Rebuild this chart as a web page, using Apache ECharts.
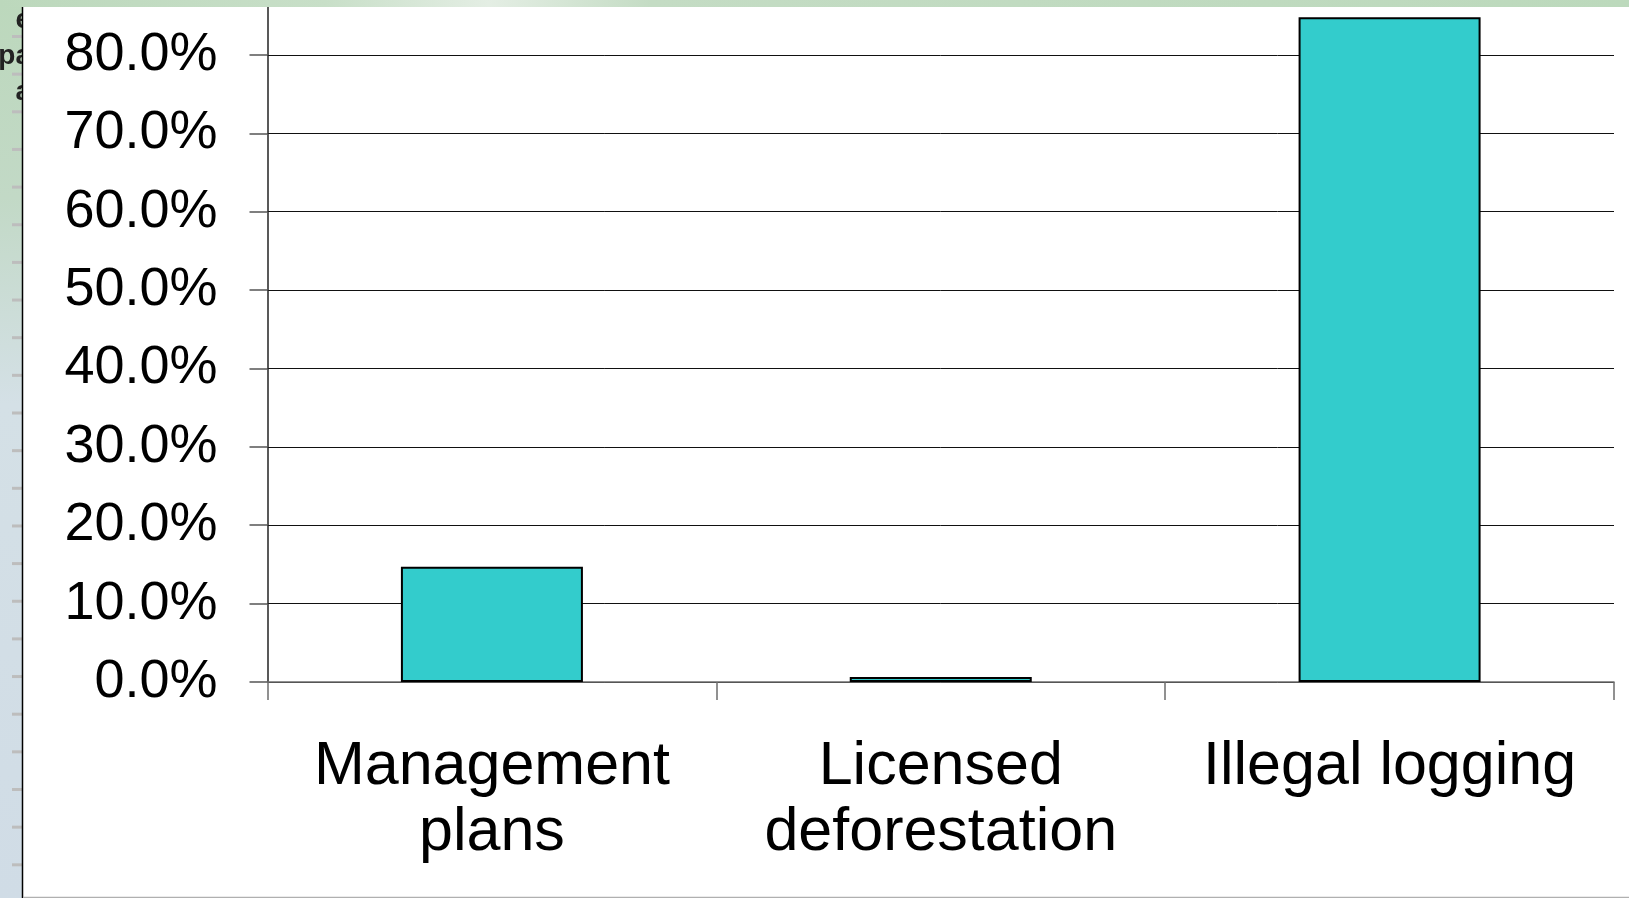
<!DOCTYPE html>
<html>
<head>
<meta charset="utf-8">
<script src="https://cdn.jsdelivr.net/npm/echarts@6/dist/echarts.min.js"></script>
<style>
html,body{margin:0;padding:0;background:#fff;}
#chart{width:1629px;height:898px;}
</style>
</head>
<body>
<div id="chart"></div>
<script>
const categories = ['Management\nplans', 'Licensed\ndeforestation', 'Illegal logging'];
const shares = [0.147, 0.0065, 0.848];
const yTicks = [0, 0.1, 0.2, 0.3, 0.4, 0.5, 0.6, 0.7, 0.8];
const yMaxVisible = 0.8625;

const chart = echarts.init(document.getElementById('chart'));

const deco = [];
deco.push({type:'rect', z:100, shape:{x:0,y:0,width:23,height:898},
  style:{fill:new echarts.graphic.LinearGradient(0,0,0,1,[
    {offset:0,color:'#bcd8bc'},{offset:0.22,color:'#c2d9c6'},{offset:0.45,color:'#d4e0e6'},{offset:1,color:'#d0dce6'}])}});
for (let k = 0; k < 23; k++) {
  deco.push({type:'rect', z:101, shape:{x:12,y:35+k*37.65,width:10,height:3}, style:{fill:'#bdbdbd'}});
}
deco.push({type:'text', z:102, style:{text:'e', x:31, y:20, align:'right', verticalAlign:'middle', font:'bold 28px "Liberation Sans", Arial', fill:'#222'}});
deco.push({type:'text', z:102, style:{text:'pa', x:31, y:56, align:'right', verticalAlign:'middle', font:'bold 28px "Liberation Sans", Arial', fill:'#222'}});
deco.push({type:'text', z:102, style:{text:'a', x:31, y:92, align:'right', verticalAlign:'middle', font:'bold 28px "Liberation Sans", Arial', fill:'#222'}});
deco.push({type:'rect', z:103, shape:{x:23,y:0,width:30,height:130}, style:{fill:'#fff'}});
deco.push({type:'rect', z:104, shape:{x:0,y:0,width:1629,height:7},
  style:{fill:new echarts.graphic.LinearGradient(0,0,1,0,[
    {offset:0,color:'#bcd8bc'},{offset:0.2,color:'#c8dfc8'},{offset:0.3,color:'#e4eee4'},{offset:0.4,color:'#c4dcc4'},{offset:1,color:'#bcd9bc'}])}});
deco.push({type:'line', z:105, shape:{x1:22.5,y1:7,x2:22.5,y2:898}, style:{stroke:'#000',lineWidth:1.5}});
deco.push({type:'line', z:105, shape:{x1:23,y1:897.5,x2:1629,y2:897.5}, style:{stroke:'#b0b0b0',lineWidth:1.5}});

chart.setOption({
  animation:false,
  backgroundColor:'#fff',
  grid:{left:267.5, right:15, top:6, bottom:216, containLabel:false},
  xAxis:{
    type:'category',
    data:categories,
    boundaryGap:true,
    axisLine:{show:true, lineStyle:{color:'#6e6e6e', width:1.5}},
    axisTick:{show:true, length:18, alignWithLabel:false, lineStyle:{color:'#6e6e6e', width:1.5}},
    axisLabel:{interval:0, margin:52, color:'#000', fontSize:61, lineHeight:66,
      fontFamily:'"Liberation Sans", Arial, sans-serif', align:'center'},
    splitLine:{show:false}
  },
  yAxis:{
    type:'value',
    min:yTicks[0], max:yMaxVisible, interval:0.1,
    axisLine:{show:true, lineStyle:{color:'#222', width:1.5}},
    axisTick:{show:true, length:18, lineStyle:{color:'#555', width:1.5}},
    axisLabel:{margin:50, color:'#000', fontSize:54, showMaxLabel:false,
      fontFamily:'"Liberation Sans", Arial, sans-serif',
      formatter:function(v){
        const hit = yTicks.some(t => Math.abs(t - v) < 1e-6);
        return hit ? (v*100).toFixed(1)+'%' : '';
      }},
    splitLine:{show:true, lineStyle:{color:'#111', width:1}}
  },
  series:[{
    type:'bar',
    data:shares,
    barWidth:182,
    itemStyle:{color:'#33CCCC', borderColor:'#000', borderWidth:2}
  }],
  graphic:{elements:deco}
});
</script>
</body>
</html>
